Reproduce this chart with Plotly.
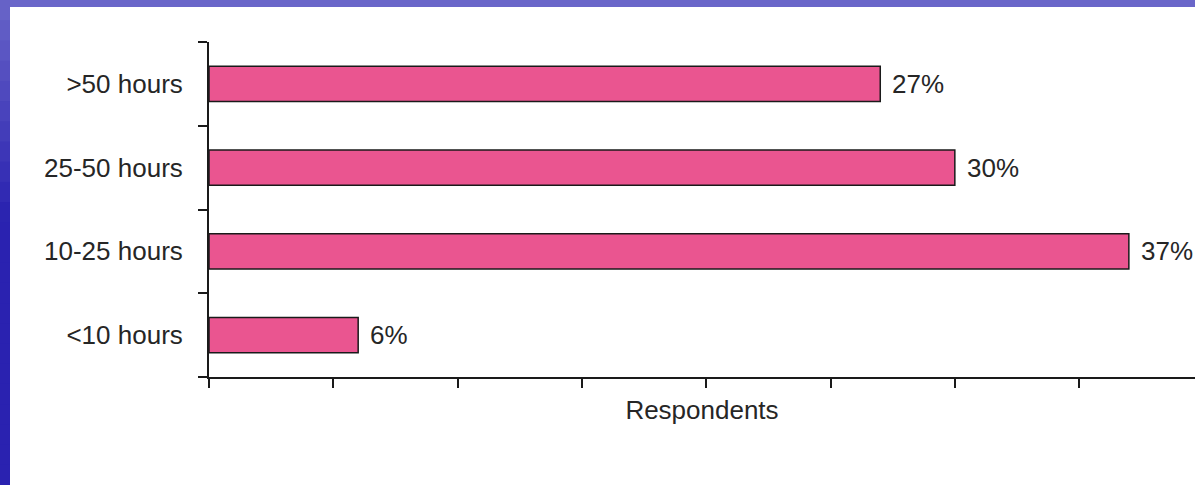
import plotly.graph_objects as go

categories = ["<10 hours", "10-25 hours", "25-50 hours", ">50 hours"]
values = [6, 37, 30, 27]
value_labels = ["6%", "37%", "30%", "27%"]
x_axis_title = "Respondents"

W, H = 1195, 485
L, R, T, B = 209, 0, 42, 108
pw, ph = W - L - R, H - T - B

def px_to_paper_x(px):
    return (px - L) / pw

def py_to_paper_y(py):
    return (H - B - py) / ph

FONT = "Liberation Sans, Arial, sans-serif"
TXT = "#262626"

fig = go.Figure()
fig.add_trace(go.Bar(
    y=categories, x=values, orientation="h",
    width=0.42,
    marker=dict(color="#EA5590", line=dict(color="#1a1a1a", width=1.5)),
    hoverinfo="skip",
))

annotations = []
for c, v, t in zip(categories, values, value_labels):
    annotations.append(dict(
        x=v, y=c, xref="x", yref="y", text=t, showarrow=False,
        xanchor="left", yanchor="middle", xshift=10,
        font=dict(family=FONT, size=26, color=TXT),
    ))

shapes = []
# top band (slide background)
shapes.append(dict(type="rect", xref="paper", yref="paper",
                   x0=px_to_paper_x(0), x1=px_to_paper_x(W),
                   y0=py_to_paper_y(7), y1=py_to_paper_y(0),
                   fillcolor="#6a66c9", line=dict(width=0), layer="below"))
# left band with vertical gradient
top_col = (0x6a, 0x66, 0xc9)
bot_col = (0x2a, 0x22, 0xb0)
n = 24
for i in range(n):
    y0p = i * H / n
    y1p = (i + 1) * H / n + 2
    f = min(1.0, (y0p + y1p) / 2 / 220.0)
    col = tuple(int(top_col[k] + (bot_col[k] - top_col[k]) * f) for k in range(3))
    shapes.append(dict(type="rect", xref="paper", yref="paper",
                       x0=px_to_paper_x(0), x1=px_to_paper_x(10),
                       y0=py_to_paper_y(y1p), y1=py_to_paper_y(y0p),
                       fillcolor="rgb(%d,%d,%d)" % col, line=dict(width=0), layer="below"))

fig.update_layout(
    width=W, height=H,
    margin=dict(l=L, r=R, t=T, b=B, pad=0),
    paper_bgcolor="white", plot_bgcolor="rgba(0,0,0,0)",
    showlegend=False,
    bargap=0.58,
    font=dict(family=FONT, size=26, color=TXT),
    annotations=annotations,
    shapes=shapes,
    xaxis=dict(
        range=[0, 39.66], dtick=5, tick0=0,
        showgrid=False, zeroline=False,
        showline=True, linecolor="#1a1a1a", linewidth=2,
        ticks="outside", ticklen=9, tickwidth=2, tickcolor="#1a1a1a",
        showticklabels=False,
        title=dict(text=x_axis_title, standoff=14,
                   font=dict(family=FONT, size=26, color=TXT)),
    ),
    yaxis=dict(
        type="category", categoryorder="array", categoryarray=categories,
        showgrid=False, zeroline=False,
        showline=True, linecolor="#1a1a1a", linewidth=2,
        ticks="outside", ticklen=9, tickwidth=2, tickcolor="#1a1a1a",
        tickson="boundaries",
        tickfont=dict(family=FONT, size=26, color=TXT),
        ticklabelstandoff=19,
    ),
)

fig.write_html(
    "out.html",
    config={"displayModeBar": False},
    post_script="document.body.style.margin='0';document.body.style.overflow='hidden';",
)
